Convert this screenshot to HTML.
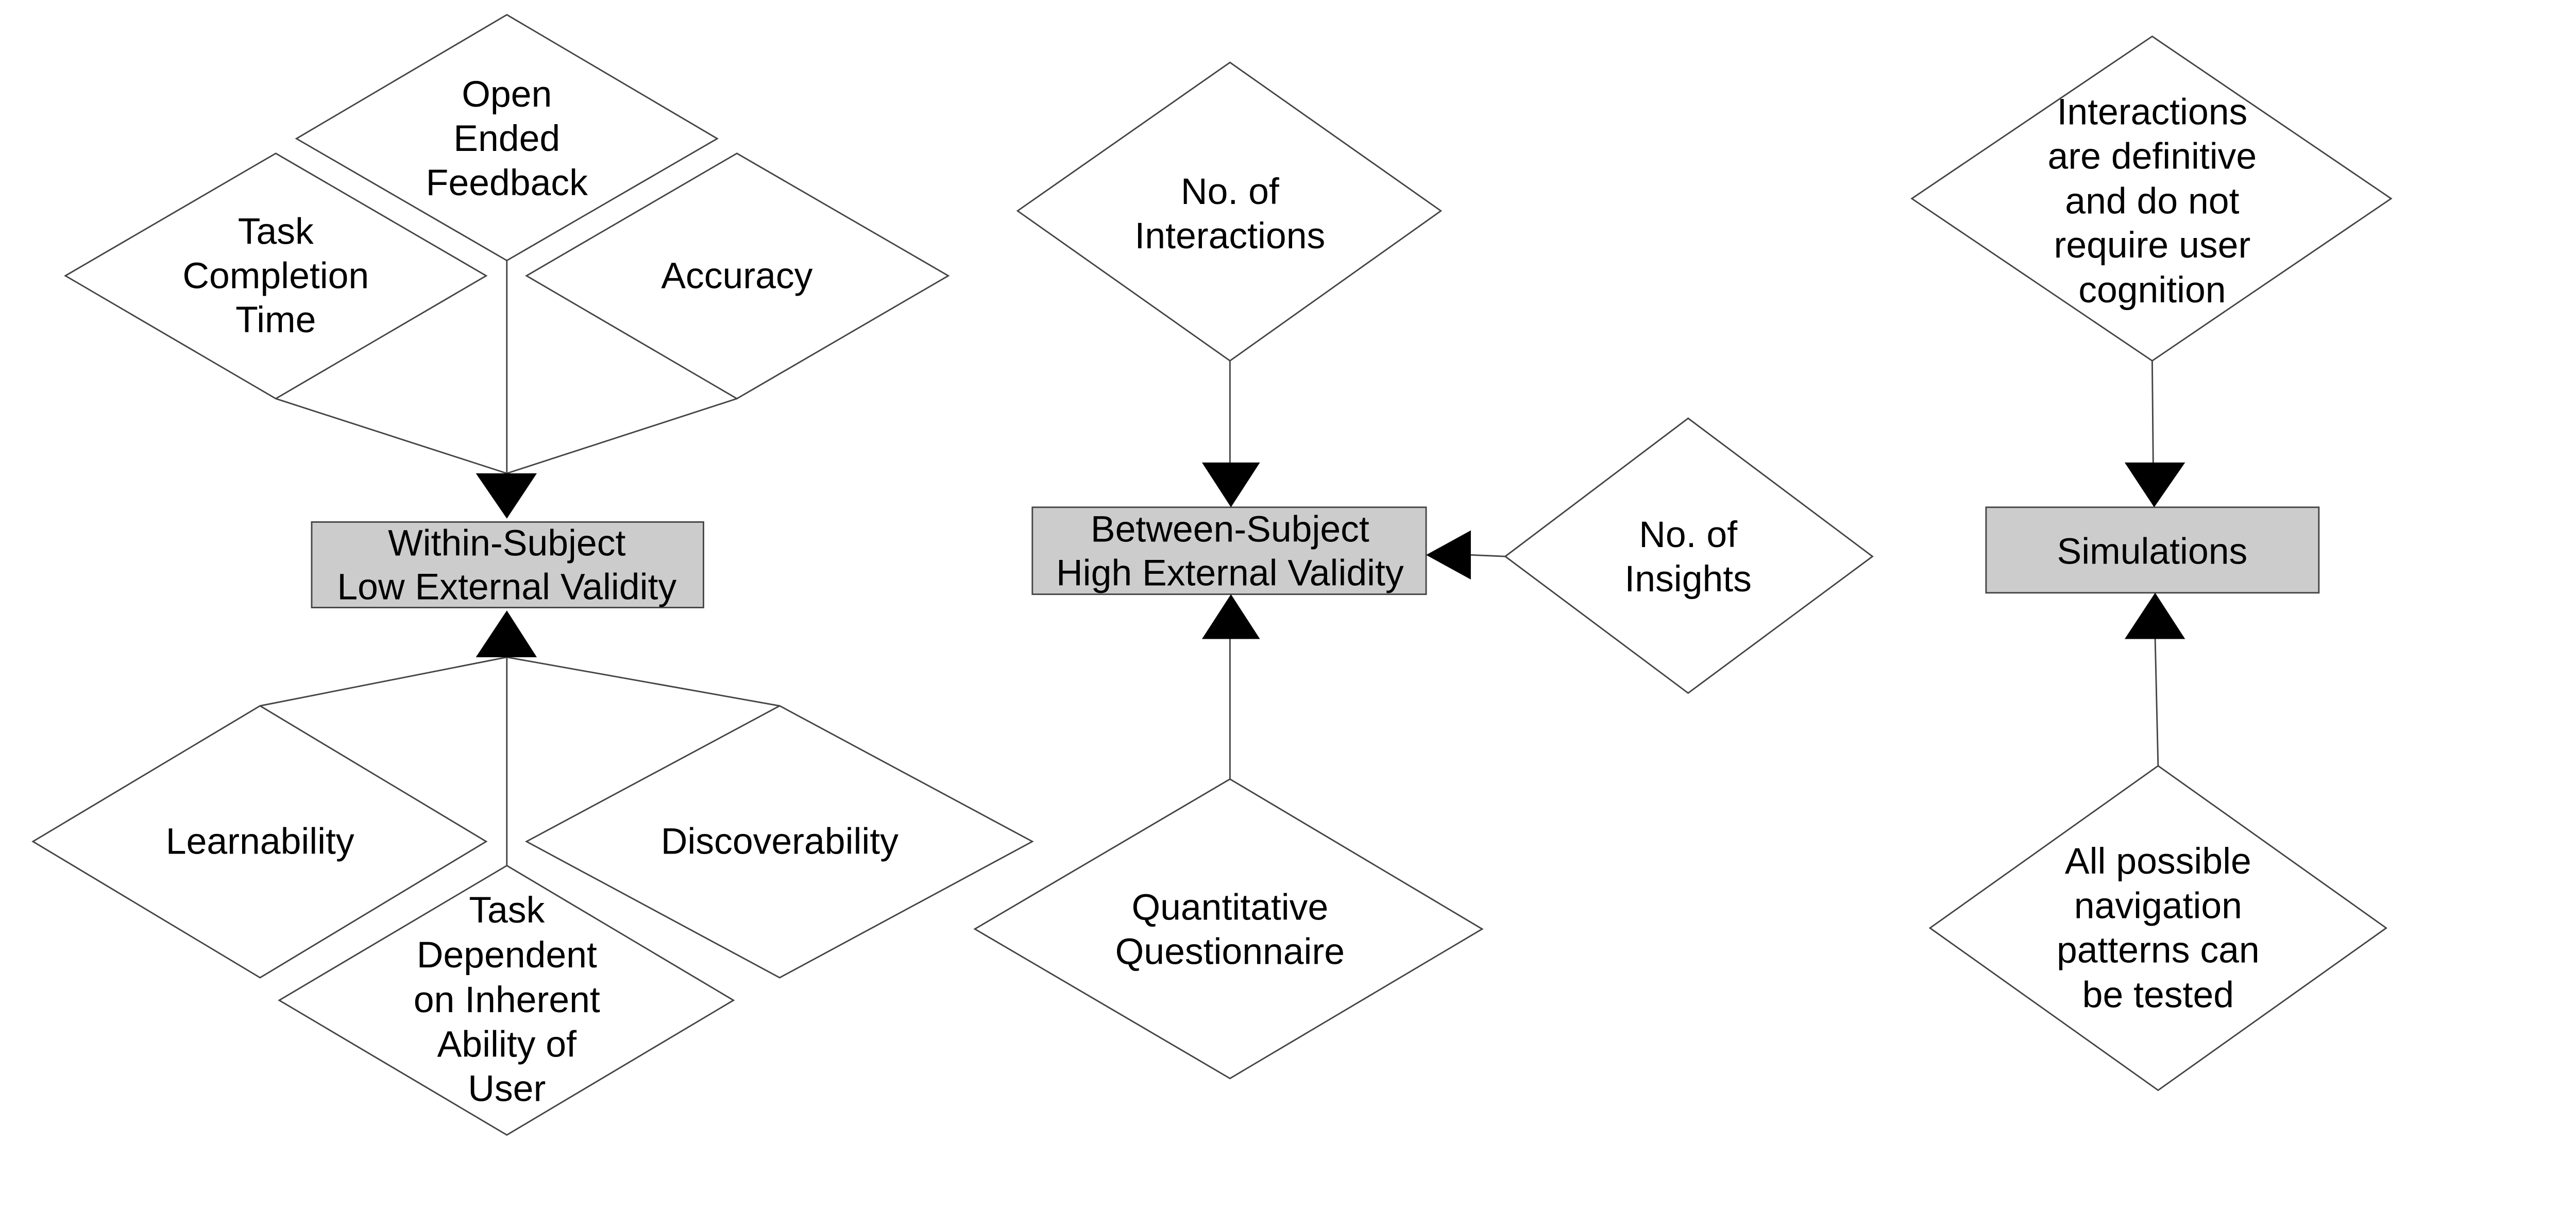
<!DOCTYPE html>
<html><head><meta charset="utf-8"><style>
html,body{margin:0;padding:0;background:#fff;}
svg text{font-family:"Liberation Sans",sans-serif;font-size:75px;fill:#000;text-anchor:middle;dominant-baseline:central;}
</style></head><body>
<svg width="5227" height="2377" viewBox="0 0 5478 2491" preserveAspectRatio="none" xmlns="http://www.w3.org/2000/svg">
<g fill="#fff" stroke="#444" stroke-width="3">
<polygon points="1031,30 1459,282 1031,530 603,282"/>
<polygon points="561,312 989,561 561,811 133,561"/>
<polygon points="1499,312 1929,561 1499,811 1071,561"/>
<polygon points="529,1436 989,1712 529,1989 67,1712"/>
<polygon points="1586,1436 2100,1712 1586,1989 1071,1712"/>
<polygon points="1031,1761 1492,2035 1031,2309 568,2035"/>
<polygon points="2502,127 2931,429 2502,734 2070,429"/>
<polygon points="3434,851 3809,1132 3434,1410 3062,1132"/>
<polygon points="2502,1585 3015,1890 2502,2194 1983,1890"/>
<polygon points="4378,74 4864,404 4378,734 3889,404"/>
<polygon points="4390,1558 4854,1888 4390,2218 3926,1888"/>
</g>
<g stroke="#444" stroke-width="3" fill="none">
<line x1="561" y1="811" x2="1031" y2="963"/>
<line x1="1499" y1="811" x2="1031" y2="963"/>
<line x1="1031" y1="530" x2="1031" y2="963"/>
<line x1="1031" y1="1337" x2="529" y2="1436"/>
<line x1="1031" y1="1337" x2="1586" y2="1436"/>
<line x1="1031" y1="1337" x2="1031" y2="1761"/>
<line x1="2502" y1="734" x2="2502" y2="941"/>
<line x1="2502" y1="1300" x2="2502" y2="1585"/>
<line x1="2992" y1="1129" x2="3062" y2="1132"/>
<line x1="4378" y1="734" x2="4380" y2="941"/>
<line x1="4384" y1="1300" x2="4390" y2="1558"/>
</g>
<g fill="#ccc" stroke="#444" stroke-width="3">
<rect x="634" y="1062" width="797" height="174"/>
<rect x="2100" y="1032" width="801" height="177"/>
<rect x="4040" y="1032" width="677" height="174"/>
</g>
<g fill="#000">
<polygon points="968,963 1092,963 1031,1055"/>
<polygon points="968,1337 1092,1337 1031,1242"/>
<polygon points="2445,941 2563,941 2504,1032"/>
<polygon points="2445,1300 2563,1300 2504,1209"/>
<polygon points="2992,1079 2992,1179 2901,1129"/>
<polygon points="4322,941 4445,941 4382,1032"/>
<polygon points="4322,1300 4445,1300 4384,1206"/>
</g>
<text x="1031" y="192">Open</text><text x="1031" y="282">Ended</text><text x="1031" y="372">Feedback</text>
<text x="561" y="471">Task</text><text x="561" y="561">Completion</text><text x="561" y="651">Time</text>
<text x="1499" y="561">Accuracy</text>
<text x="1031" y="1105">Within-Subject</text><text x="1031" y="1194">Low External Validity</text>
<text x="529" y="1712">Learnability</text>
<text x="1586" y="1712">Discoverability</text>
<text x="1031" y="1852">Task</text><text x="1031" y="1943">Dependent</text><text x="1031" y="2034">on Inherent</text><text x="1031" y="2125">Ability of</text><text x="1031" y="2215">User</text>
<text x="2502" y="390">No. of</text><text x="2502" y="480">Interactions</text>
<text x="2502" y="1077">Between-Subject</text><text x="2502" y="1166">High External Validity</text>
<text x="3434" y="1088">No. of</text><text x="3434" y="1178">Insights</text>
<text x="2502" y="1846">Quantitative</text><text x="2502" y="1936">Questionnaire</text>
<text x="4378" y="228">Interactions</text><text x="4378" y="318">are definitive</text><text x="4378" y="409">and do not</text><text x="4378" y="499">require user</text><text x="4378" y="590">cognition</text>
<text x="4378" y="1122">Simulations</text>
<text x="4390" y="1752">All possible</text><text x="4390" y="1843">navigation</text><text x="4390" y="1933">patterns can</text><text x="4390" y="2024">be tested</text>
</svg>
</body></html>
